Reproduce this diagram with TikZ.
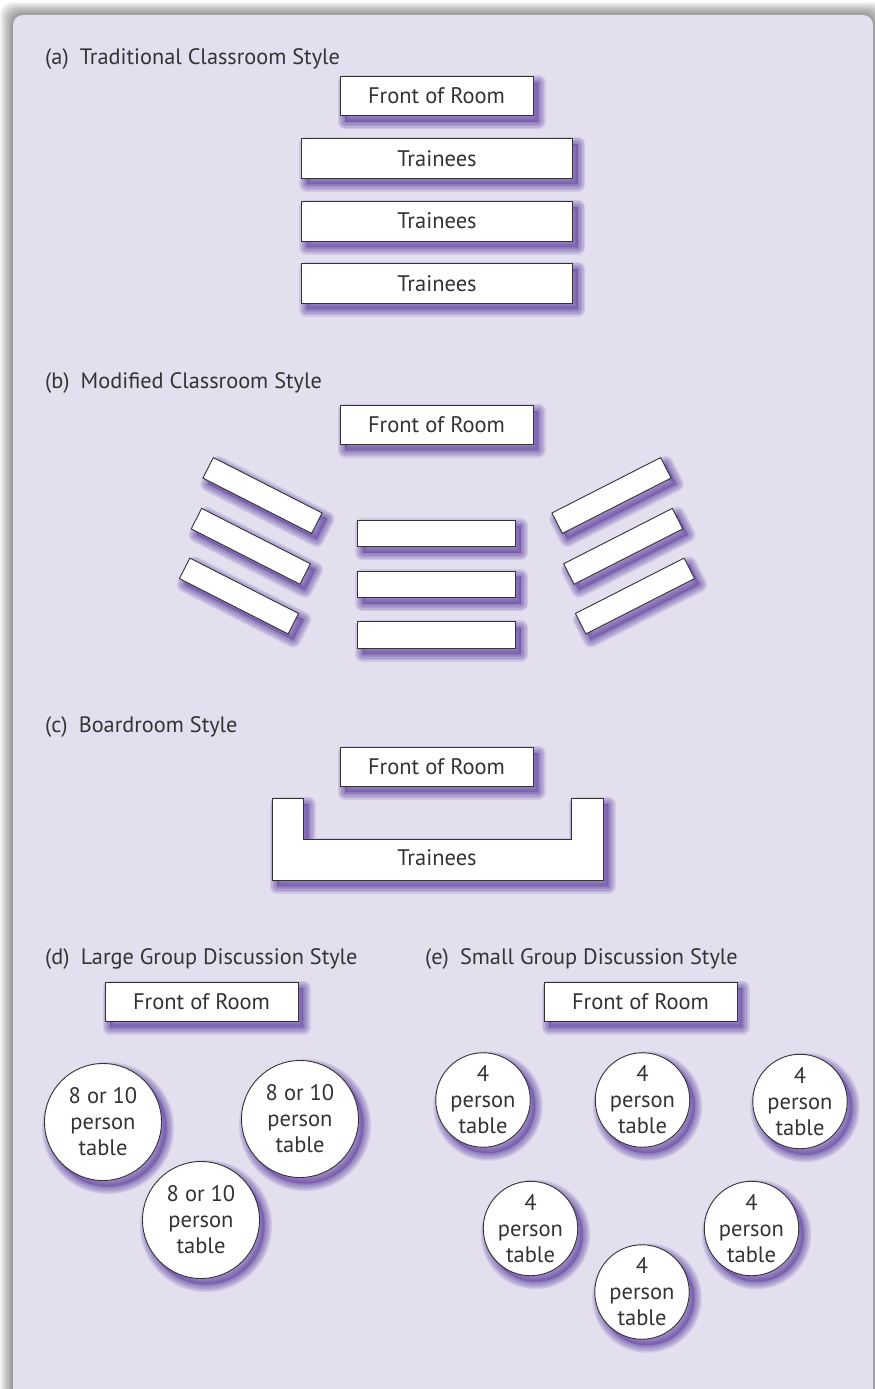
\documentclass[tikz,border=0pt]{standalone}
\usepackage{fontspec}
\setmainfont{PT Sans}

\definecolor{panelfill}{HTML}{E3DFEF}
\definecolor{ink}{HTML}{333333}
\definecolor{shadowpurple}{HTML}{5A3A9C}

\tikzset{
  % soft purple drop shadow built from stacked translucent layers
  shadowlayer/.style={preaction={draw=shadowpurple, line width=#1, line join=round,
      draw opacity=0.15, transform canvas={shift={(5pt,-6pt)}}}},
  soft/.style={
    preaction={fill=shadowpurple, fill opacity=0.42,
      transform canvas={shift={(5pt,-6pt)}}},
    shadowlayer=15pt, shadowlayer=12pt, shadowlayer=9pt, shadowlayer=6pt,
    shadowlayer=3pt, shadowlayer=1pt},
  desk/.style={draw=ink, line width=0.9pt, fill=white, text=ink, inner sep=0pt,
      font=\fontsize{22.5}{26}\selectfont, soft},
  bar/.style={desk, minimum width=122pt, minimum height=23pt},
  roundtable/.style={desk, circle, align=center},
  bigtable/.style={roundtable, minimum size=117pt},
  smalltable/.style={roundtable, minimum size=93pt},
  caption/.style={anchor=base west, text=ink, inner sep=0pt,
      font=\fontsize{22.3}{26}\selectfont},
}

\begin{document}
\begin{tikzpicture}[x=1pt, y=-1pt]
\useasboundingbox (0,0) rectangle (875,1389);
\fill[white] (0,0) rectangle (875,1389);

% grey halo round the panel
\foreach \i in {13,12,...,1}
  \fill[black, opacity=0.035, rounded corners=12pt]
    (13-\i,15-\i) rectangle (873+\i,1405+\i);
\fill[panelfill, rounded corners=10pt] (13,15) rectangle (873,1405);

% (a) traditional classroom
\node[caption] (capA) at (45,64) {(a)\hspace{0.5em}Traditional Classroom Style};
\node[desk, minimum width=193pt, minimum height=39pt] (frontA) at (436.5,96) {Front of Room};
\foreach \y/\n in {158.3/1, 221/2, 283.3/3}
  \node[desk, minimum width=271pt, minimum height=40pt] (rowA\n) at (437,\y) {Trainees};

% (b) modified classroom
\node[caption] (capB) at (45,388) {(b)\hspace{0.5em}Modified Classroom Style};
\node[desk, minimum width=193pt, minimum height=39pt] (frontB) at (436.5,424.5) {Front of Room};
\foreach \y/\n in {533.3/1, 584.3/2, 635/3}
  \node[desk, minimum width=158pt, minimum height=26.7pt] (midB\n) at (436.5,\y) {};
\node[bar, rotate=-27] (leftB1) at (262.5,495.5) {};
\node[bar, rotate=-27] (leftB2) at (250.8,546.3) {};
\node[bar, rotate=-27] (leftB3) at (239,596) {};
\node[bar, rotate=27] (rightB1) at (611.5,495.5) {};
\node[bar, rotate=27] (rightB2) at (623.2,546.3) {};
\node[bar, rotate=27] (rightB3) at (635,596) {};

% (c) boardroom
\node[caption] (capC) at (45,732) {(c)\hspace{0.5em}Boardroom Style};
\node[desk, minimum width=193pt, minimum height=39pt] (frontC) at (436.5,766.5) {Front of Room};
\draw[draw=ink, line width=0.9pt, fill=white, soft]
  (272,798) -- (303,798) -- (303,839) -- (571,839) -- (571,798)
  -- (603,798) -- (603,880) -- (272,880) -- cycle;
\node[text=ink, font=\fontsize{22.5}{26}\selectfont] (boardC) at (437,858) {Trainees};

% (d) large group discussion
\node[caption] (capD) at (45,964) {(d)\hspace{0.5em}Large Group Discussion Style};
\node[desk, minimum width=193pt, minimum height=39pt] (frontD) at (201.5,1001.5) {Front of Room};
\node[bigtable] (bigD1) at (103,1122) {8 or 10\\person\\table};
\node[bigtable] (bigD2) at (300,1119) {8 or 10\\person\\table};
\node[bigtable] (bigD3) at (201,1220) {8 or 10\\person\\table};

% (e) small group discussion
\node[caption] (capE) at (425,964) {(e)\hspace{0.5em}Small Group Discussion Style};
\node[desk, minimum width=193pt, minimum height=39pt] (frontE) at (640.5,1001.5) {Front of Room};
\foreach \x/\y/\n in {483/1100/1, 642.5/1100/2, 800/1101.5/3, 530.5/1228.5/4, 751.5/1228.5/5, 642/1292/6}
  \node[smalltable] (smallE\n) at (\x,\y) {4\\person\\table};
\end{tikzpicture}
\end{document}
